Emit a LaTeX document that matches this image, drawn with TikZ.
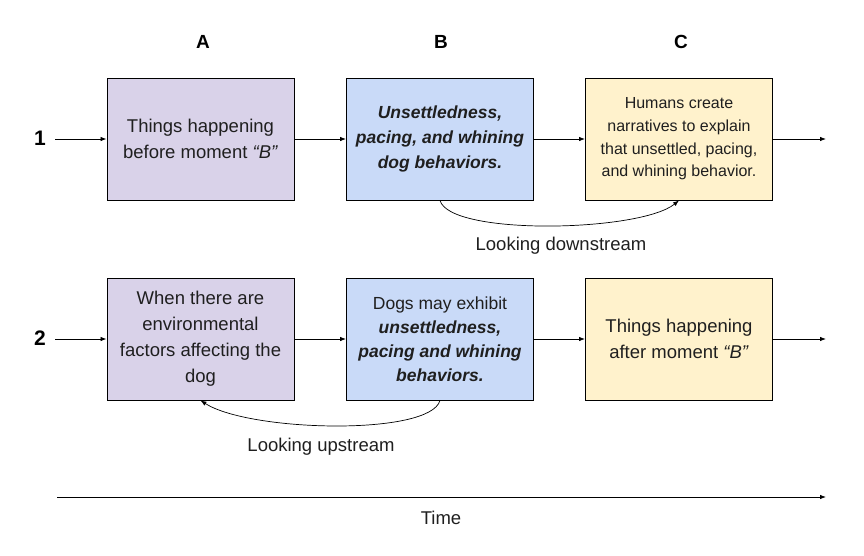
\documentclass[tikz,border=0pt]{standalone}
\usepackage{fontspec}
\setmainfont{Liberation Sans}
\usetikzlibrary{arrows.meta}
\definecolor{boxA}{HTML}{D9D2E9}
\definecolor{boxB}{HTML}{C9DAF8}
\definecolor{boxC}{HTML}{FFF2CC}
\definecolor{ink}{HTML}{1F1F1F}

\begin{document}
\begin{tikzpicture}[x=1pt,y=-1pt,
  box/.style={draw=black, line width=0.9pt, minimum width=187pt, minimum height=122pt,
    align=center, text=ink, inner sep=2pt},
  big/.style={font=\fontsize{18.5}{26}\selectfont},
  mid/.style={font=\fontsize{17.5}{25}\selectfont},
  small/.style={font=\fontsize{16}{22.7}\selectfont},
  head/.style={font=\bfseries\fontsize{19}{22}\selectfont, text=black},
  flow/.style={-{Latex[length=6pt,width=4.5pt]}, line width=0.8pt},
  loop/.style={-{Latex[length=6pt,width=4.5pt]}, line width=0.7pt}]
\useasboundingbox (0,0) rectangle (864,555);

% column heads
\node[head] (hA) at (203,42) {A};
\node[head] (hB) at (441,42) {B};
\node[head] (hC) at (681,42) {C};

% row 1
\node[head, font=\bfseries\fontsize{21}{22}\selectfont] (n1) at (40,138) {1};
\node[box, fill=boxA, big] (a1) at (200.5,139) {Things happening\\before moment \textit{``B''}};
\node[box, fill=boxB, mid] (b1) at (440,139) {\textbf{\textit{Unsettledness,}}\\\textbf{\textit{pacing, and whining}}\\\textbf{\textit{dog behaviors.}}};
\node[box, fill=boxC, small] (c1) at (679,139) {Humans create\\narratives to explain\\that unsettled, pacing,\\and whining behavior.};
\coordinate (s1) at (55,139);
\coordinate (e1) at (826,139);
\draw[flow] (s1) -- (a1);
\draw[flow] (a1) -- (b1);
\draw[flow] (b1) -- (c1);
\draw[flow] (c1) -- (e1);
\draw[loop] (b1.south) .. controls (450,236) and (640,232) .. (c1.south);
\node[big, text=ink] (down) at (561,246) {Looking downstream};

% row 2
\node[head, font=\bfseries\fontsize{21}{22}\selectfont] (n2) at (40,338) {2};
\node[box, fill=boxA, big] (a2) at (200.5,339) {When there are\\environmental\\factors affecting the\\dog};
\node[box, fill=boxB, mid, font=\fontsize{17.5}{24}\selectfont] (b2) at (440,339) {Dogs may exhibit\\\textbf{\textit{unsettledness,}}\\\textbf{\textit{pacing and whining}}\\\textbf{\textit{behaviors.}}};
\node[box, fill=boxC, big] (c2) at (679,339) {Things happening\\after moment \textit{``B''}};
\coordinate (s2) at (55,339);
\coordinate (e2) at (826,339);
\draw[flow] (s2) -- (a2);
\draw[flow] (a2) -- (b2);
\draw[flow] (b2) -- (c2);
\draw[flow] (c2) -- (e2);
\draw[loop] (b2.south) .. controls (430,436) and (250,432) .. (a2.south);
\node[big, text=ink] (up) at (321,447) {Looking upstream};

% time axis
\coordinate (t0) at (57,497);
\coordinate (t1) at (826,497);
\draw[flow] (t0) -- (t1);
\node[big, text=ink] (time) at (441,518) {Time};
\end{tikzpicture}
\end{document}
